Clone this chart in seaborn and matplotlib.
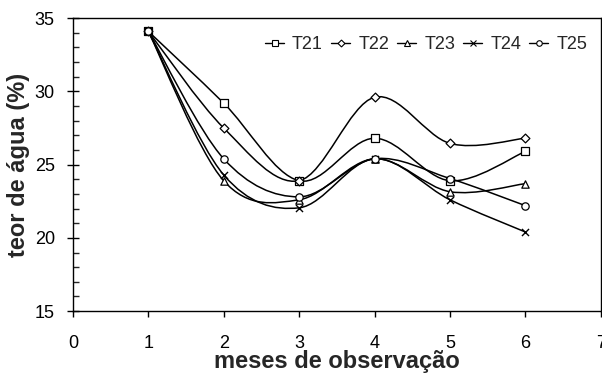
import numpy as np
import pandas as pd
import matplotlib
matplotlib.use("Agg")
import matplotlib.pyplot as plt
from matplotlib.path import Path
from matplotlib.patches import PathPatch
from matplotlib.lines import Line2D
from matplotlib.ticker import MultipleLocator
import seaborn as sns

meses = [1, 2, 3, 4, 5, 6]
T21 = [34.1, 29.2, 23.9, 26.8, 23.9, 25.9]
T22 = [34.1, 27.5, 23.9, 29.6, 26.45, 26.8]
T23 = [34.1, 23.9, 22.6, 25.4, 23.15, 23.7]
T24 = [34.1, 24.3, 22.05, 25.4, 22.6, 20.4]
T25 = [34.1, 25.4, 22.8, 25.4, 24.05, 22.2]
series_names = ["T21", "T22", "T23", "T24", "T25"]
series_values = [T21, T22, T23, T24, T25]
marker_map = {"T21": "s", "T22": "D", "T23": "^", "T24": "x", "T25": "o"}

sns.set_style("ticks")
plt.rcParams["font.family"] = ["Liberation Sans", "DejaVu Sans"]

df = pd.DataFrame({
    "mes": np.tile(meses, len(series_names)),
    "valor": np.concatenate(series_values),
    "serie": np.repeat(series_names, len(meses)),
})

fig = plt.figure(figsize=(6.02, 3.78), dpi=100)
ax = fig.add_axes([0.121, 0.177, 0.877, 0.775])


def smooth_path(xs, ys):
    pts = np.column_stack([xs, ys]).astype(float)
    n = len(pts)
    verts = [pts[0]]
    codes = [Path.MOVETO]
    for i in range(n - 1):
        p0 = pts[i - 1] if i > 0 else pts[i]
        p1 = pts[i]
        p2 = pts[i + 1]
        p3 = pts[i + 2] if i + 2 < n else pts[i + 1]
        c1 = p1 + (p2 - p0) / 6.0
        c2 = p2 - (p3 - p1) / 6.0
        verts += [c1, c2, p2]
        codes += [Path.CURVE4] * 3
    return Path(verts, codes)


for name, vals in zip(series_names, series_values):
    ax.add_patch(PathPatch(smooth_path(meses, vals), facecolor="none",
                           edgecolor="black", lw=1.1, zorder=2))

for name in series_names:
    sub = df[df["serie"] == name]
    m = marker_map[name]
    if m == "x":
        sns.scatterplot(data=sub, x="mes", y="valor", marker="x", s=26,
                        color="black", linewidth=1.0, ax=ax, zorder=3, legend=False)
    else:
        ms = 20 if m == "D" else 28
        sns.scatterplot(data=sub, x="mes", y="valor", marker=m, s=ms,
                        facecolor="white", edgecolor="black", linewidth=0.9,
                        ax=ax, zorder=3, legend=False)

ax.set_xlim(0, 7)
ax.set_ylim(15, 35)
ax.xaxis.set_major_locator(MultipleLocator(1))
ax.yaxis.set_major_locator(MultipleLocator(5))
ax.yaxis.set_minor_locator(MultipleLocator(1))
ax.tick_params(axis="x", which="major", direction="out", length=4, width=1,
               labelsize=13, colors="black", pad=13)
ax.tick_params(axis="y", which="major", direction="inout", length=8, width=1,
               labelsize=13, colors="black", pad=9)
ax.tick_params(axis="y", which="minor", direction="in", length=4, width=1)
for sp in ax.spines.values():
    sp.set_visible(True)
    sp.set_color("black")
    sp.set_linewidth(1.0)

ax.set_xlabel("meses de observação", fontsize=17, fontweight="bold", labelpad=-1)
ax.set_ylabel("teor de água (%)", fontsize=17, fontweight="bold", labelpad=3)

handles = []
for name in series_names:
    m = marker_map[name]
    if m == "x":
        h = Line2D([], [], color="black", lw=1, marker="x", markersize=4,
                   markeredgewidth=0.8)
    else:
        h = Line2D([], [], color="black", lw=1, marker=m,
                   markersize=4 if m != "D" else 3.5,
                   markerfacecolor="white", markeredgecolor="black",
                   markeredgewidth=0.8)
    handles.append(h)
ax.legend(handles, series_names, loc="upper right", ncol=5, frameon=False,
          fontsize=13, handlelength=1.05, handletextpad=0.45, columnspacing=0.45,
          bbox_to_anchor=(0.995, 0.975), borderaxespad=0.2)

fig.savefig("out.png", dpi=100)
